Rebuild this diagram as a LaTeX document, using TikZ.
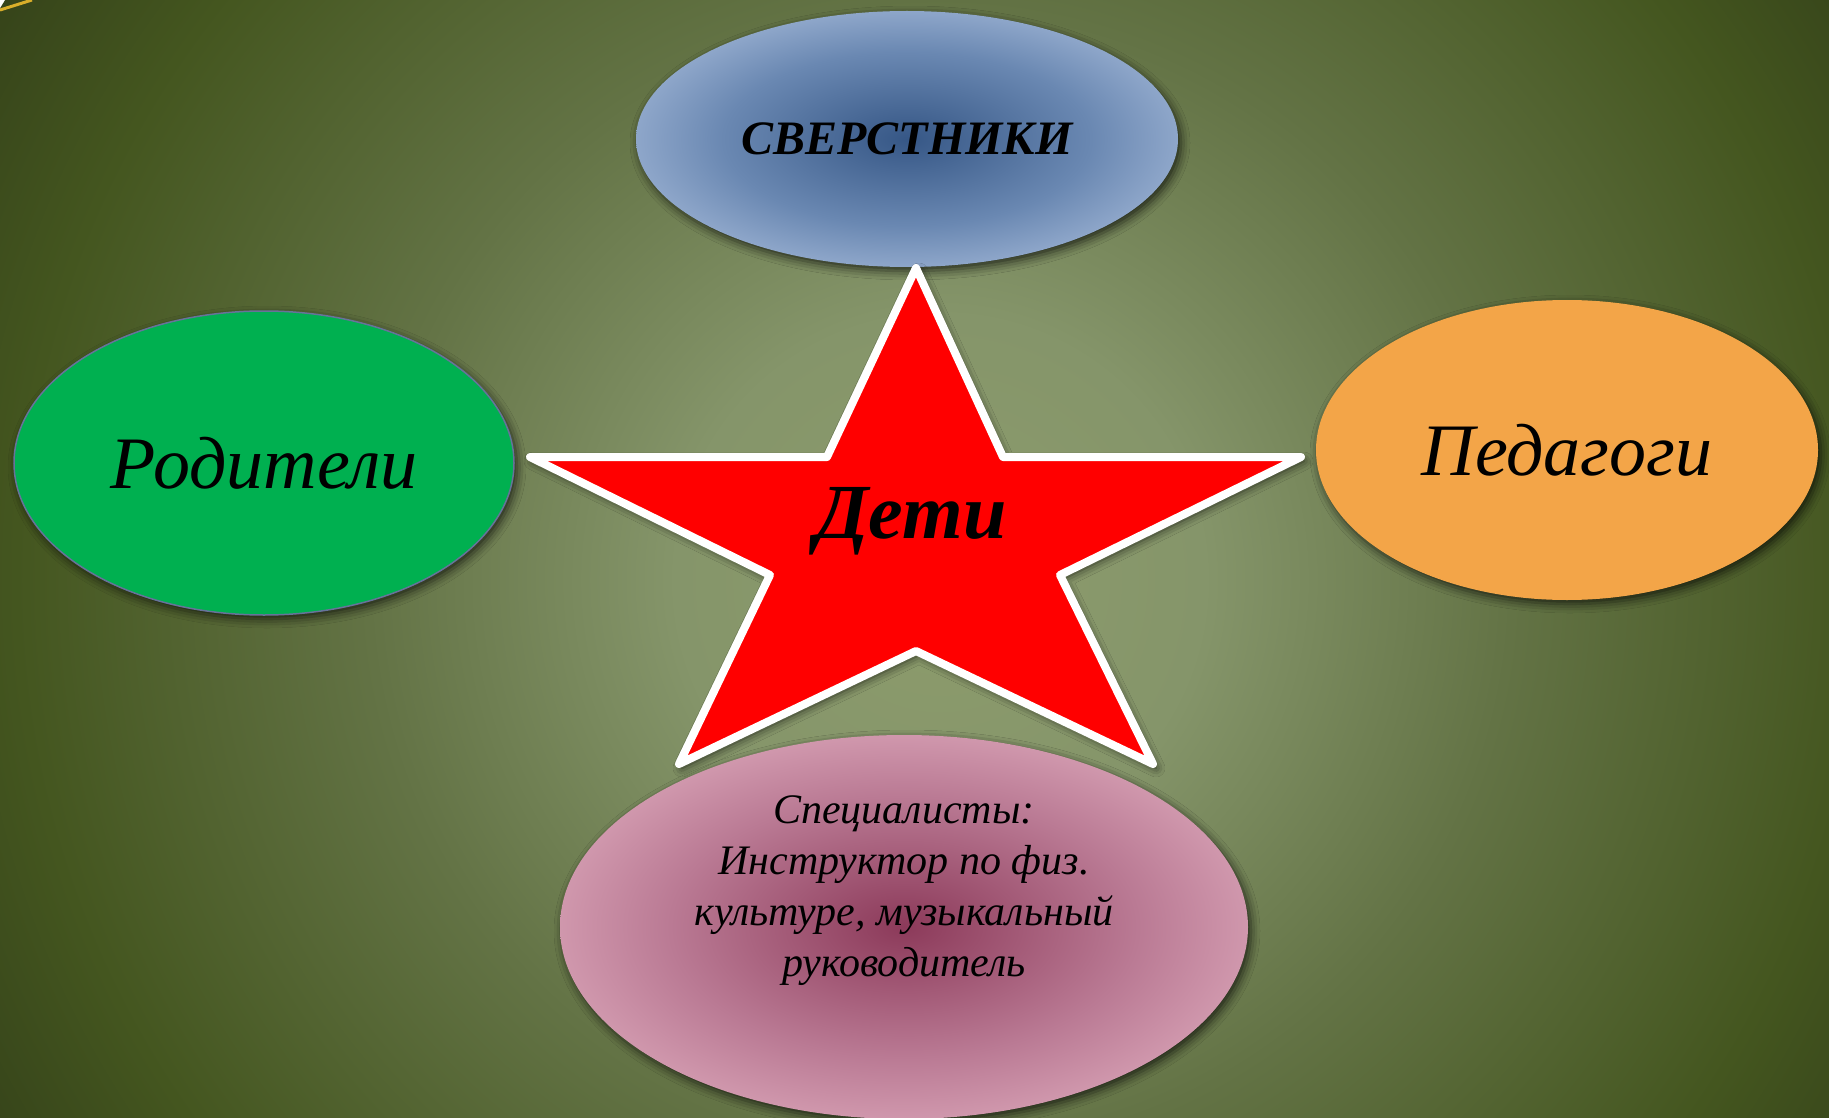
\documentclass[tikz,border=0pt]{standalone}
\usepackage{fontspec}
\setmainfont{Liberation Serif}
\usetikzlibrary{shapes.geometric,shadows.blur,calc}

\definecolor{bgin}{HTML}{8D9C6C}
\definecolor{bgtwo}{HTML}{85956A}
\definecolor{bgmid}{HTML}{637345}
\definecolor{bgedge}{HTML}{44561F}
\definecolor{bgout}{HTML}{36441A}
\definecolor{peerin}{HTML}{365786}
\definecolor{peermid}{HTML}{6A88B2}
\definecolor{peerout}{HTML}{B6C8E4}
\definecolor{parent}{HTML}{00B050}
\definecolor{parentrim}{HTML}{67739A}
\definecolor{teacher}{HTML}{F3A548}
\definecolor{specin}{HTML}{8C3A5A}
\definecolor{specmid}{HTML}{BA7A94}
\definecolor{specout}{HTML}{E8B8C8}
\definecolor{gold}{HTML}{D9AE2A}

\pgfdeclareradialshading{bgglow}{\pgfpointorigin}{color(0bp)=(bgin); color(6bp)=(bgtwo); color(13bp)=(bgmid); color(21bp)=(bgedge); color(25bp)=(bgout); color(50bp)=(bgout)}
\pgfdeclareradialshading{peerglow}{\pgfpointorigin}{color(0bp)=(peerin); color(17bp)=(peermid); color(34bp)=(peerout); color(50bp)=(peerout)}
\pgfdeclareradialshading{specglow}{\pgfpointorigin}{color(0bp)=(specin); color(17bp)=(specmid); color(34bp)=(specout); color(50bp)=(specout)}

\tikzset{
  oval/.style={ellipse, inner sep=0pt},
  shad/.style={blur shadow={shadow xshift=3pt, shadow yshift=-4pt, shadow blur radius=9pt, shadow opacity=70}},
  big/.style={font=\fontsize{74}{74}\selectfont\itshape},
  starline/.style={draw=white, line width=8pt, line join=round, fill=red, shad}
}

\begin{document}
\begin{tikzpicture}[x=1pt,y=-1pt]
\useasboundingbox (0,0) rectangle (1829,1118);
\begin{scope}
  \clip (0,0) rectangle (1829,1118);
  \shade[shading=bgglow] (940,580) circle (1100pt);
  \draw[gold, line width=3pt] (0,10) -- (32,0);
\end{scope}

\node[oval, shad, minimum width=542pt, minimum height=256pt, shading=peerglow,
  font=\fontsize{48}{48}\selectfont\bfseries\itshape] (peers) at (907,139) {СВЕРСТНИКИ};
\node[oval, shad, minimum width=500pt, minimum height=304pt, fill=parent, draw=parentrim, line width=1.5pt, big]
  (parents) at (264,463) {Родители};
\node[oval, shad, minimum width=502pt, minimum height=300pt, fill=teacher, big]
  (teachers) at (1567,450) {Педагоги};
\node[oval, shad, minimum width=688pt, minimum height=384pt, shading=specglow]
  (spec) at (904,927) {};
\node[align=center, font=\fontsize{42}{51}\selectfont\itshape] (spectext) at ($(spec.center)+(0,-36)$)
  {Специалисты:\\Инструктор по физ.\\культуре, музыкальный\\руководитель};

\draw[starline] (916,268) -- (1003,457) -- (1301,457) -- (1060,575) -- (1153,764) -- (916,651)
  -- (679,764) -- (770,575) -- (530,457) -- (827,457) -- cycle;
\node[font=\fontsize{78}{78}\selectfont\bfseries\itshape] (kids) at (911,521) {Дети};
\end{tikzpicture}
\end{document}
